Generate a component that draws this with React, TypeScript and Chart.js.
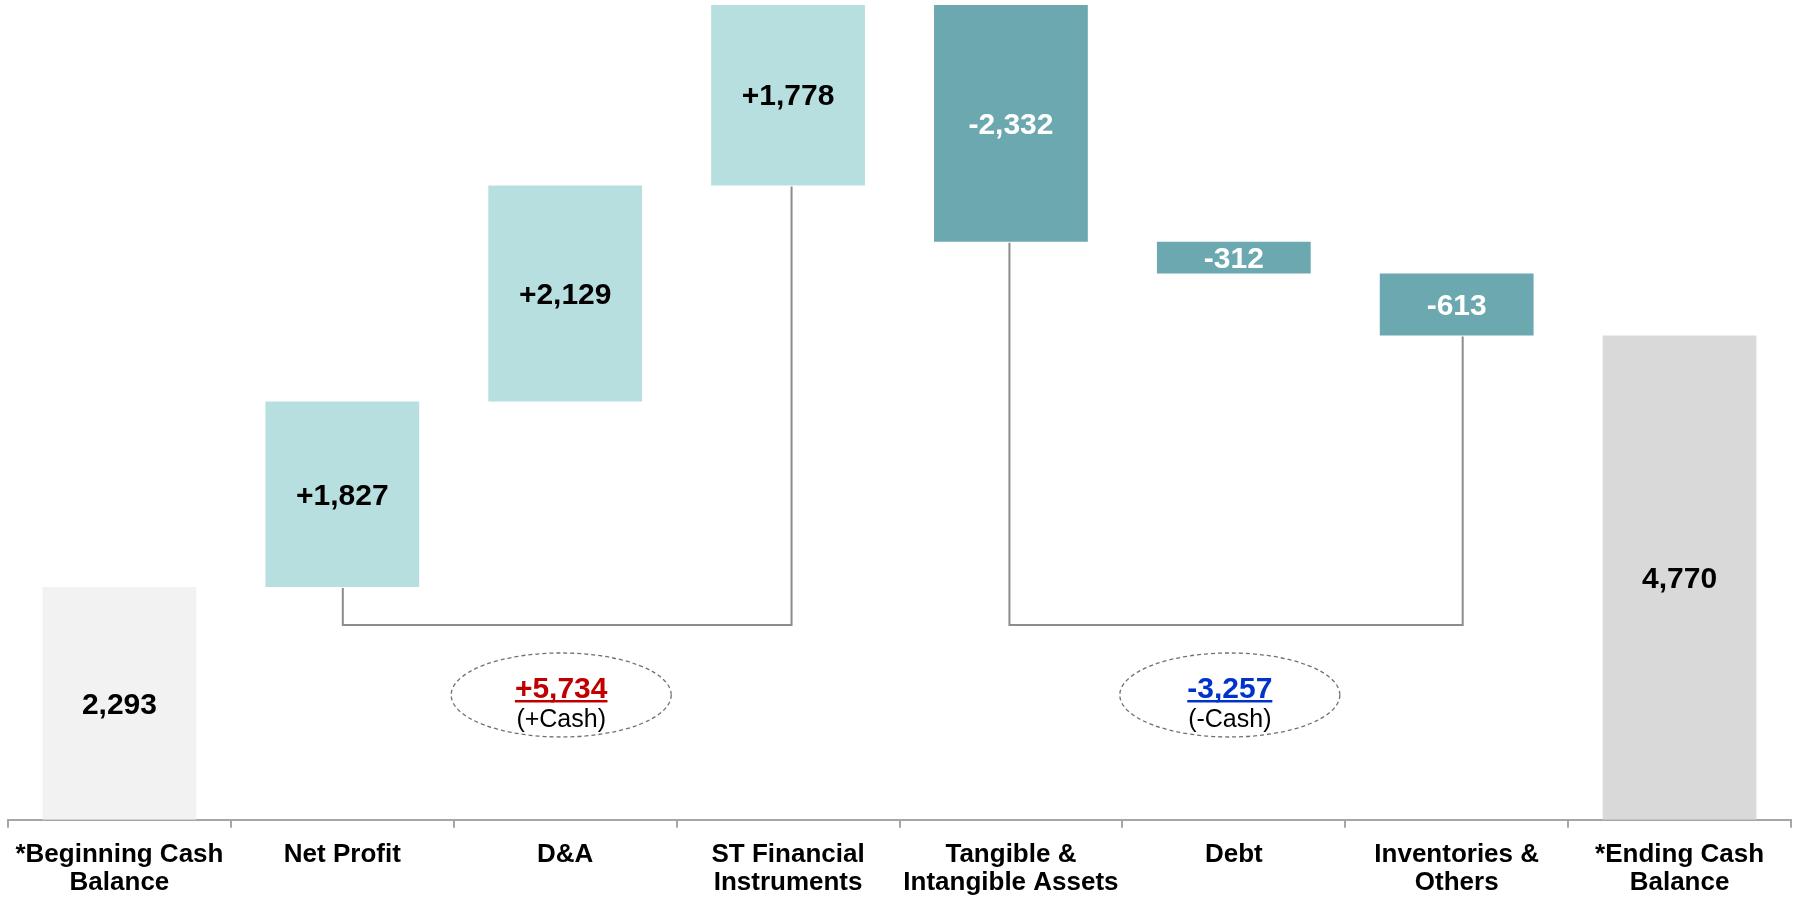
import { useEffect, useRef } from "react";
import { Chart, registerables } from "chart.js";

Chart.register(...registerables);

// Cash flow bridge: categories, step values and kinds
const categories: string[][] = [
  ["*Beginning Cash", "Balance"],
  ["Net Profit"],
  ["D&A"],
  ["ST Financial", "Instruments"],
  ["Tangible &", "Intangible Assets"],
  ["Debt"],
  ["Inventories &", "Others"],
  ["*Ending Cash", "Balance"],
];
const stepValues = [2293, 1827, 2129, 1778, -2332, -312, -613, 4770];
const stepKinds = ["start", "up", "up", "up", "down", "down", "down", "end"];

// Grouped subtotals shown below the bridge
const groups = [
  { from: 1, to: 3, caption: "(+Cash)", color: "#C00000" },
  { from: 4, to: 6, caption: "(-Cash)", color: "#0033CC" },
];

// Small horizontal nudges of the connector legs (px), per group: [left, right]
const connectorNudge: [number, number][] = [
  [0.5, 3.5],
  [-1.5, 6],
];

const colorByKind: Record<string, string> = {
  start: "#F2F2F2",
  up: "#B7DFE0",
  down: "#6CA8AF",
  end: "#D9D9D9",
};

const FONT = "Arial, 'Liberation Sans', Helvetica, sans-serif";
const BRACKET_LEVEL = 1920;
const OVAL_LEVEL = 1230;

function buildRanges(): [number, number][] {
  let running = 0;
  return stepValues.map((v, i) => {
    const k = stepKinds[i];
    if (k === "start" || k === "end") {
      running = v;
      return [0, v];
    }
    const a = running;
    running += v;
    return [Math.min(a, running), Math.max(a, running)];
  });
}

function fmt(n: number, signed: boolean): string {
  const s = Math.abs(n).toLocaleString("en-US");
  if (!signed) return s;
  return (n >= 0 ? "+" : "-") + s;
}

const overlayPlugin = {
  id: "bridgeOverlay",
  afterDatasetsDraw(chart: any) {
    const ctx: CanvasRenderingContext2D = chart.ctx;
    const meta = chart.getDatasetMeta(0);
    const yScale = chart.scales.y;
    const bars = meta.data as any[];

    // connector brackets
    const lineY = yScale.getPixelForValue(BRACKET_LEVEL);
    ctx.save();
    ctx.strokeStyle = "#8C8C8C";
    ctx.lineWidth = 2;
    groups.forEach((g, gi) => {
      const a = bars[g.from];
      const b = bars[g.to];
      const [na, nb] = connectorNudge[gi];
      const aBottom = Math.max(a.y, a.base) + 1;
      const bBottom = Math.max(b.y, b.base) + 1;
      ctx.beginPath();
      ctx.moveTo(a.x + na, aBottom);
      ctx.lineTo(a.x + na, lineY);
      ctx.lineTo(b.x + nb, lineY);
      ctx.lineTo(b.x + nb, bBottom);
      ctx.stroke();
    });
    ctx.restore();

    // value labels inside bars
    ctx.save();
    ctx.font = `bold 30px ${FONT}`;
    ctx.textAlign = "center";
    ctx.textBaseline = "middle";
    bars.forEach((bar, i) => {
      const k = stepKinds[i];
      const signed = k === "up" || k === "down";
      ctx.fillStyle = k === "down" ? "#FFFFFF" : "#000000";
      const cy = (bar.y + bar.base) / 2;
      ctx.fillText(fmt(stepValues[i], signed), bar.x, cy + 2);
    });
    ctx.restore();

    // dashed ovals with group totals
    const oy = yScale.getPixelForValue(OVAL_LEVEL);
    groups.forEach((g) => {
      let total = 0;
      for (let i = g.from; i <= g.to; i++) total += stepValues[i];
      const mid = Math.round((g.from + g.to) / 2);
      const cx = bars[mid].x - 4;
      ctx.save();
      ctx.beginPath();
      ctx.ellipse(cx, oy, 110, 42, 0, 0, Math.PI * 2);
      ctx.setLineDash([4, 3]);
      ctx.strokeStyle = "#707070";
      ctx.lineWidth = 1.3;
      ctx.stroke();
      ctx.setLineDash([]);

      const txt = fmt(total, true);
      ctx.font = `bold 30px ${FONT}`;
      ctx.fillStyle = g.color;
      ctx.textAlign = "center";
      ctx.textBaseline = "alphabetic";
      const baseY = oy + 3;
      ctx.fillText(txt, cx, baseY);
      const w = ctx.measureText(txt).width;
      ctx.fillRect(cx - w / 2, baseY + 2, w, 2.5);

      ctx.font = `25px ${FONT}`;
      ctx.fillStyle = "#000000";
      ctx.fillText(g.caption, cx, oy + 32);
      ctx.restore();
    });
  },
};

export default function App() {
  const canvasRef = useRef<HTMLCanvasElement | null>(null);

  useEffect(() => {
    const canvas = canvasRef.current;
    if (!canvas) return;
    const ranges = buildRanges();
    const chart = new Chart(canvas, {
      type: "bar",
      data: {
        labels: categories,
        datasets: [
          {
            data: ranges as any,
            backgroundColor: stepKinds.map((k) => colorByKind[k]),
            borderWidth: 0,
            barPercentage: 0.69,
            categoryPercentage: 1,
          },
        ],
      },
      options: {
        animation: false,
        responsive: false,
        maintainAspectRatio: false,
        layout: { padding: { left: 8, right: 8, top: 0, bottom: -13 } },
        plugins: {
          legend: { display: false },
          tooltip: { enabled: false },
        },
        scales: {
          x: {
            grid: {
              display: true,
              drawOnChartArea: false,
              drawTicks: true,
              tickLength: 8,
              color: "#A6A6A6",
              lineWidth: 2,
              offset: true,
            },
            border: { display: true, color: "#A6A6A6", width: 2 },
            ticks: {
              color: "#000000",
              font: { family: FONT, size: 26, weight: "bold", lineHeight: 1.08 },
              padding: 13,
              maxRotation: 0,
              autoSkip: false,
            },
          },
          y: {
            display: false,
            min: 0,
            max: 8076,
          },
        },
      },
      plugins: [overlayPlugin],
    });
    return () => chart.destroy();
  }, []);

  return (
    <div style={{ position: "absolute", left: 0, top: 0, width: 1799, height: 897, background: "#fff" }}>
      <canvas ref={canvasRef} width={1799} height={897} style={{ display: "block" }} />
    </div>
  );
}
